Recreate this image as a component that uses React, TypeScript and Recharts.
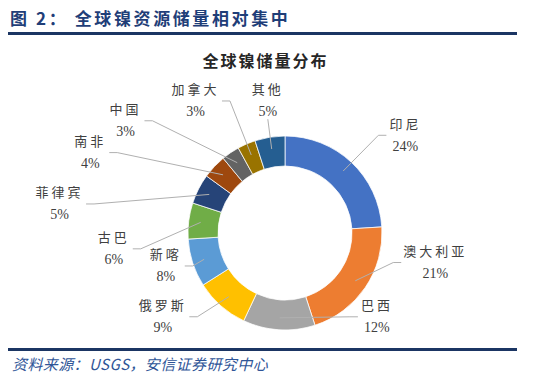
import { PieChart, Pie, Cell } from "recharts";

// 全球镍储量分布 (USGS)
const countries = ["印尼", "澳大利亚", "巴西", "俄罗斯", "新喀", "古巴", "菲律宾", "南非", "中国", "加拿大", "其他"];
const shares = [24, 21, 12, 9, 8, 6, 5, 4, 3, 3, 5];
const colors = ["#4472C4", "#ED7D31", "#A5A5A5", "#FFC000", "#5B9BD5", "#70AD47", "#264478", "#9E480E", "#636363", "#997300", "#255E91"];

// label block offset from the slice's outer midpoint, and which side the leader line attaches to
const labelShift = [[54, -27], [70, -25], [98, -13], [-58, 11], [-27, 3], [-75, 28], [-139, 15], [-124, -14], [-105, -32], [-51, -43], [-2, -37]];
const lineSide = ["left", "left", "left", "right", "right", "right", "right", "right", "right", "right", "bottom"];

const data = countries.map((name, i) => ({ name, value: shares[i] }));

const RADIAN = Math.PI / 180;
const labelFont = "'Liberation Serif', 'Noto Sans CJK SC', serif";

function renderLabel(props: any) {
  const { cx, cy, midAngle, outerRadius, index } = props;
  const cos = Math.cos(-midAngle * RADIAN);
  const sin = Math.sin(-midAngle * RADIAN);
  const ox = cx + outerRadius * cos;
  const oy = cy + outerRadius * sin;
  const [dx, dy] = labelShift[index];
  const tx = ox + dx;
  const ty = oy + dy;
  const sx = cx + (outerRadius - 12) * cos;
  const sy = cy + (outerRadius - 12) * sin;
  const half = countries[index].length * 7.5 + 4;
  const side = lineSide[index];

  let pts = "";
  if (side === "left") {
    pts = `${sx},${sy} ${tx - half - 8},${ty} ${tx - half},${ty}`;
  } else if (side === "right") {
    pts = `${sx},${sy} ${tx + half + 8},${ty} ${tx + half},${ty}`;
  } else {
    pts = `${sx},${sy} ${tx},${ty + 19}`;
  }

  return (
    <g key={`lbl-${index}`}>
      <polyline points={pts} fill="none" stroke="#b0b0b0" strokeWidth={1} />
      <text x={tx} y={ty - 11} textAnchor="middle" dominantBaseline="central" fontSize={13} fill="#404040" fontFamily={labelFont} letterSpacing={3}>
        {countries[index]}
      </text>
      <text x={tx} y={ty + 11} textAnchor="middle" dominantBaseline="central" fontSize={14} fill="#404040" fontFamily={labelFont}>
        {shares[index]}%
      </text>
    </g>
  );
}

export default function App() {
  return (
    <div style={{ position: "relative", width: 544, height: 378, background: "#fff", overflow: "hidden" }}>
      <style>{`body{margin:0}`}</style>
      <div style={{ position: "absolute", left: 0, top: 0 }}>
        <PieChart width={544} height={378}>
          <Pie
            data={data}
            dataKey="value"
            nameKey="name"
            cx={280}
            cy={228}
            innerRadius={67}
            outerRadius={97}
            startAngle={90}
            endAngle={-270}
            stroke="#ffffff"
            strokeWidth={0.75}
            label={renderLabel}
            labelLine={false}
            isAnimationActive={false}
          >
            {data.map((d, i) => (
              <Cell key={d.name} fill={colors[i]} />
            ))}
          </Pie>
        </PieChart>
      </div>

      <div style={{ position: "absolute", left: 10, top: 5, fontFamily: "'Noto Sans CJK SC', sans-serif", fontWeight: 700, fontSize: 17, color: "#1F3E78", letterSpacing: 2.6, whiteSpace: "nowrap" }}>
        图 2： 全球镍资源储量相对集中
      </div>
      <div style={{ position: "absolute", left: 8, top: 32, width: 509, height: 3, background: "#1B3563" }} />

      <div style={{ position: "absolute", left: 0, width: 531, top: 48, textAlign: "center", fontFamily: "'Noto Sans CJK SC', sans-serif", fontWeight: 700, fontSize: 16, color: "#262626", letterSpacing: 2 }}>
        全球镍储量分布
      </div>

      <div style={{ position: "absolute", left: 8, top: 348, width: 509, height: 3, background: "#1B3563" }} />
      <div style={{ position: "absolute", left: 12, top: 353, fontFamily: "'Noto Sans CJK SC', Arial, sans-serif", fontStyle: "italic", fontSize: 15, color: "#2F5597", letterSpacing: 0.4, whiteSpace: "nowrap" }}>
        资料来源：USGS，安信证券研究中心
      </div>
    </div>
  );
}
